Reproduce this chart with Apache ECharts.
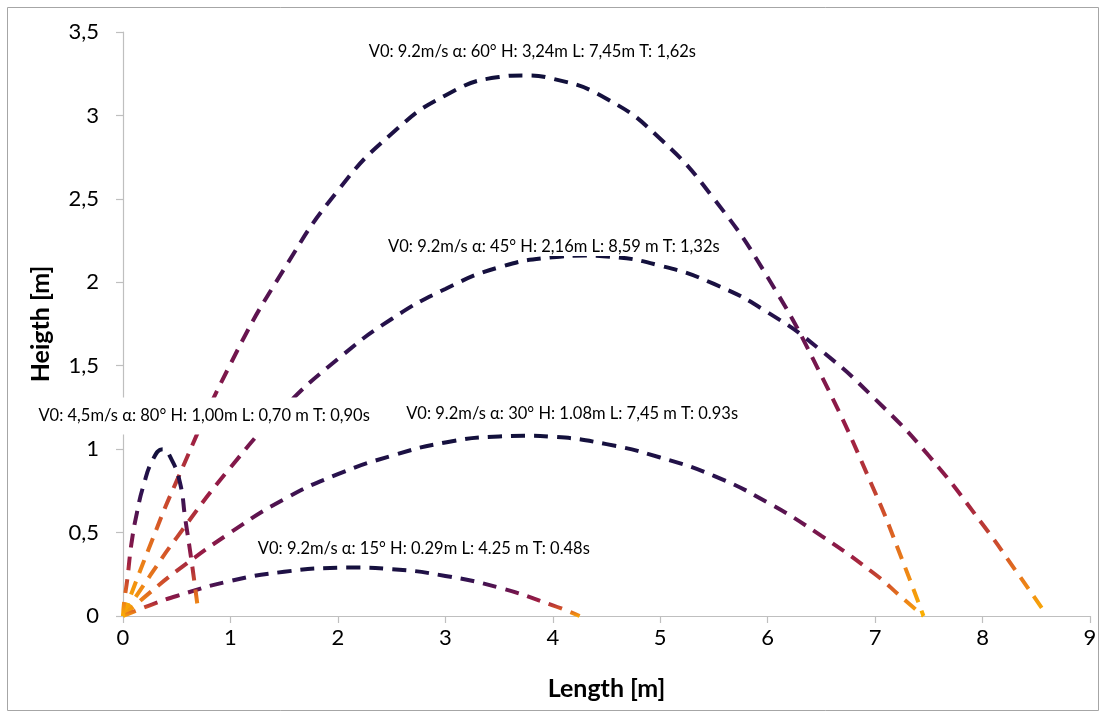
<!DOCTYPE html>
<html>
<head>
<meta charset="utf-8">
<script src="https://cdn.jsdelivr.net/npm/echarts@6/dist/echarts.min.js"></script>
<style>
  html, body { margin: 0; padding: 0; background: #fff; }
</style>
</head>
<body>
<div id="box" style="width: 1105px; height: 719px;"></div>
<script>
// trajectories: [length, height]
var shot60 = [[0, 0], [0.25, 0.42], [0.5, 0.81], [1, 1.51], [1.5, 2.08], [2, 2.55], [2.5, 2.89], [3, 3.12], [3.5, 3.23], [3.73, 3.24], [4, 3.22], [4.5, 3.1], [5, 2.86], [5.5, 2.5], [6, 2.03], [6.5, 1.44], [7, 0.74], [7.25, 0.34], [7.45, 0]];
var shot45 = [[0, 0], [0.25, 0.24], [0.5, 0.47], [1, 0.89], [1.5, 1.25], [2, 1.54], [2.5, 1.78], [3, 1.96], [3.5, 2.09], [4, 2.15], [4.3, 2.16], [4.5, 2.155], [5, 2.1], [5.5, 1.99], [6, 1.82], [6.5, 1.59], [7, 1.3], [7.5, 0.96], [8, 0.55], [8.3, 0.28], [8.56, 0.04]];
var shot30 = [[0, 0], [0.25, 0.14], [0.5, 0.27], [1, 0.5], [1.5, 0.7], [2, 0.85], [2.5, 0.96], [3, 1.04], [3.5, 1.076], [3.73, 1.08], [4, 1.074], [4.5, 1.03], [5, 0.95], [5.5, 0.84], [6, 0.68], [6.5, 0.48], [7, 0.25], [7.25, 0.11], [7.45, 0]];
var shot15 = [[0, 0], [0.25, 0.064], [0.5, 0.12], [1, 0.21], [1.5, 0.265], [2, 0.289], [2.12, 0.29], [2.5, 0.281], [3, 0.24], [3.5, 0.17], [4, 0.064], [4.25, 0]];
var shot80 = [[0, 0], [0.01, 0.08], [0.04, 0.22], [0.08, 0.44], [0.13, 0.62], [0.19, 0.78], [0.28, 0.94], [0.37, 1.0], [0.45, 0.94], [0.53, 0.8], [0.58, 0.58], [0.64, 0.32], [0.7, 0.03]];

var shots = [shot60, shot45, shot30, shot15, shot80];

var notes = [
  'V0: 9.2m/s α: 60° H: 3,24m L: 7,45m T: 1,62s',
  'V0: 9.2m/s α: 45° H: 2,16m L: 8,59 m T: 1,32s',
  'V0: 9.2m/s α: 30° H: 1.08m L: 7,45 m T: 0.93s',
  'V0: 9.2m/s α: 15° H: 0.29m L: 4.25 m T: 0.48s',
  'V0: 4,5m/s α: 80° H: 1,00m L: 0,70 m T: 0,90s'
];
// where each note sits (length, height)
var notesAt = [[3.81, 3.38], [4.01, 2.215], [4.18, 1.21], [2.8, 0.405], [0.755, 1.198]];

var xTicks = [0, 1, 2, 3, 4, 5, 6, 7, 8, 9];
var yTicks = [0, 0.5, 1, 1.5, 2, 2.5, 3, 3.5];

var myChart = echarts.init(document.getElementById('box'));
var font = 'Lato, "Open Sans", sans-serif';

// orange at the ground, dark navy at the top of each arc
function arcColor() {
  return new echarts.graphic.LinearGradient(0, 0, 0, 1, [
    { offset: 0, color: '#10103a' },
    { offset: 0.25, color: '#2c1250' },
    { offset: 0.47, color: '#661450' },
    { offset: 0.66, color: '#9a1c44' },
    { offset: 0.81, color: '#d2512a' },
    { offset: 0.92, color: '#f08a14' },
    { offset: 1, color: '#fbb400' }
  ]);
}

var series = shots.map(function (s) {
  return {
    type: 'line',
    data: s,
    smooth: true,
    showSymbol: false,
    silent: true,
    lineStyle: {
      width: 4,
      type: [14, 9],
      cap: 'butt',
      color: arcColor()
    },
    z: 2
  };
});

series.push({
  type: 'scatter',
  symbolSize: 1,
  itemStyle: { color: 'rgba(0,0,0,0)', opacity: 1 },
  silent: true,
  z: 10,
  data: notes.map(function (t, i) {
    var d = { value: notesAt[i], name: t };
    // the low note hides the y axis line behind it
    if (i === 4) d.label = { padding: [10, 3] };
    return d;
  }),
  label: {
    show: true,
    position: 'inside',
    formatter: '{b}',
    fontFamily: font,
    fontSize: 16.5,
    color: '#000',
    opacity: 1,
    backgroundColor: '#fff',
    padding: [1, 3]
  }
});

var option = {
  backgroundColor: '#fff',
  animation: false,
  grid: { left: 123, right: 15, top: 32, bottom: 103 },
  graphic: [{
    type: 'rect',
    shape: { x: 7.5, y: 7.5, width: 1091, height: 703 },
    style: { fill: 'none', stroke: '#a6a6a6', lineWidth: 1 },
    silent: true
  }],
  xAxis: {
    type: 'value',
    min: 0,
    max: 9,
    interval: 1,
    name: 'Length [m]',
    nameLocation: 'middle',
    nameGap: 60,
    nameTextStyle: { fontFamily: font, fontSize: 25, fontWeight: 'bold', color: '#000' },
    splitLine: { show: false },
    axisLine: { lineStyle: { color: '#bfbfbf', width: 1.2 } },
    axisTick: { show: true, length: 7, lineStyle: { color: '#bfbfbf', width: 1.2 } },
    axisLabel: {
      fontFamily: font,
      fontSize: 22,
      color: '#000',
      margin: 11,
      formatter: function (v) { return xTicks.indexOf(v) >= 0 ? String(v) : ''; }
    }
  },
  yAxis: {
    type: 'value',
    min: 0,
    max: 3.5,
    interval: 0.5,
    name: 'Heigth [m]',
    nameLocation: 'middle',
    nameGap: 70,
    nameTextStyle: { fontFamily: font, fontSize: 25, fontWeight: 'bold', color: '#000' },
    splitLine: { show: false },
    axisLine: { show: true, lineStyle: { color: '#bfbfbf', width: 1.2 } },
    axisTick: { show: true, length: 7, lineStyle: { color: '#bfbfbf', width: 1.2 } },
    axisLabel: {
      fontFamily: font,
      fontSize: 22,
      color: '#000',
      margin: 24,
      formatter: function (v) {
        return yTicks.indexOf(v) >= 0 ? String(v).replace('.', ',') : '';
      }
    }
  },
  series: series
};

myChart.setOption(option);
</script>
</body>
</html>
